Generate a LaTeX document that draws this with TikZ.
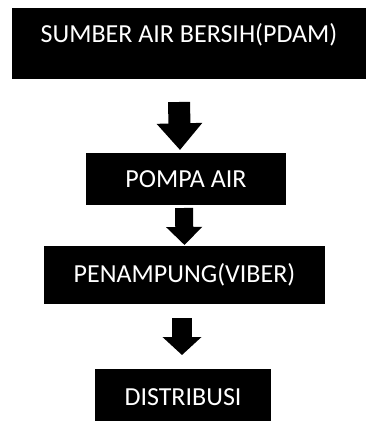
\documentclass[tikz,border=0pt]{standalone}
\usepackage{fontspec}
\setmainfont{Carlito}
\usetikzlibrary{arrows.meta}
\begin{document}
\begin{tikzpicture}[x=0.75pt,y=-0.75pt]
\tikzset{
  box/.style={fill=black,text=white,inner sep=0pt,font=\fontsize{19.5}{22}\selectfont},
}
\useasboundingbox (0,0) rectangle (366,421);
\fill[white] (0,0) rectangle (366,421);
% boxes
\node[box,minimum width=265.5pt,minimum height=53.25pt] (b1) at (189,43.5) {\raisebox{0.4pt}[0pt][0pt]{SUMBER AIR BERSIH(PDAM)}};
\node[box,minimum width=150pt,minimum height=39pt] (b2) at (186,179) {POMPA AIR};
\node[box,minimum width=210.75pt,minimum height=43.5pt] (b3) at (184.5,275) {PENAMPUNG(VIBER)};
\node[box,minimum width=132pt,minimum height=42pt,anchor=north] (b4) at (183,369) {\raisebox{-2pt}{DISTRIBUSI}};
% arrows
\coordinate (s1) at (179,102);
\coordinate (e1) at (180,150);
\coordinate (s2) at (184,208);
\coordinate (e2) at (184.5,245);
\coordinate (s3) at (182,318);
\coordinate (e3) at (182,355);
\draw[line width=16.5pt,-{Triangle[width=33pt,length=20pt]}] (s1) -- (e1);
\draw[line width=13.5pt,-{Triangle[width=26.25pt,length=13.5pt]}] (s2) -- (e2);
\draw[line width=15pt,-{Triangle[width=28.5pt,length=13.5pt]}] (s3) -- (e3);
\end{tikzpicture}
\end{document}
